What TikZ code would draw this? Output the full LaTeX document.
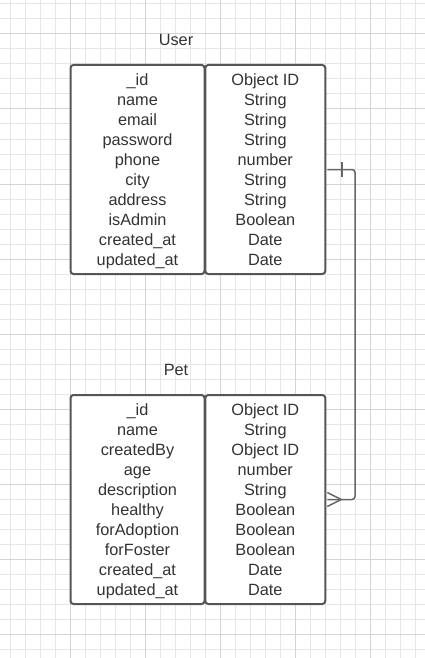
\documentclass[tikz,border=0pt]{standalone}
\usepackage{fontspec}
\setmainfont{Liberation Sans}
\definecolor{minorgrid}{HTML}{E6E6E6}
\definecolor{majorgrid}{HTML}{D4D4D4}
\definecolor{boxline}{HTML}{555555}
\definecolor{linkline}{HTML}{666666}
\definecolor{txt}{HTML}{333333}
\newcommand{\toprow}{\rule{0pt}{18pt}}
\begin{document}
\begin{tikzpicture}[x=1pt,y=-1pt,
  table/.style={draw=boxline, line width=2pt, rounded corners=3pt, fill=white,
    minimum height=209pt, align=center, text=txt, inner sep=0pt,
    font=\fontsize{16.3pt}{20pt}\selectfont},
  keycol/.style={table, minimum width=134pt},
  typecol/.style={table, minimum width=120pt},
  title/.style={text=txt, font=\fontsize{16.3pt}{20pt}\selectfont, inner sep=0pt},
  link/.style={draw=linkline, line width=1.5pt}]
\useasboundingbox (0,0) rectangle (425,658);
\fill[white] (0,0) rectangle (425,658);
% grid
\foreach \i in {0,...,27} {
  \draw[minorgrid, line width=1pt] (10.7+15*\i,0) -- (10.7+15*\i,658);
}
\foreach \j in {0,...,43} {
  \draw[minorgrid, line width=1pt] (0,4+15*\j) -- (425,4+15*\j);
}
\foreach \i in {0,...,4} {
  \draw[majorgrid, line width=1pt] (70.7+75*\i,0) -- (70.7+75*\i,658);
}
\foreach \j in {0,...,8} {
  \draw[majorgrid, line width=1pt] (0,34+75*\j) -- (425,34+75*\j);
}
% titles
\node[title] (userT) at (176,40) {User};
\node[title] (petT) at (176,370) {Pet};
% User table
\node[keycol] (uk) at (137.5,169.5) {\toprow\_id\\name\\email\\password\\phone\\city\\address\\isAdmin\\created\_at\\updated\_at\strut};
\node[typecol] (ut) at (265.3,169.5) {\toprow Object ID\\String\\String\\String\\number\\String\\String\\Boolean\\Date\\Date\strut};
% Pet table
\node[keycol] (pk) at (137.5,499.5) {\toprow\_id\\name\\createdBy\\age\\description\\healthy\\forAdoption\\forFoster\\created\_at\\updated\_at\strut};
\node[typecol] (pt) at (265.3,499.5) {\toprow Object ID\\String\\Object ID\\number\\String\\Boolean\\Boolean\\Boolean\\Date\\Date\strut};
% relationship
\coordinate (bend) at (355,0);
\draw[link, rounded corners=3pt] ([xshift=1pt]ut.east) -- (bend |- ut.east) -- (bend |- pt.east) -- ([xshift=1pt]pt.east);
\draw[link] ([shift={(15.5,-7.5)}]ut.east) -- ([shift={(15.5,7.5)}]ut.east);
\draw[link] ([shift={(1,-7)}]pt.east) -- ([xshift=15pt]pt.east) -- ([shift={(1,7)}]pt.east);
\end{tikzpicture}
\end{document}
